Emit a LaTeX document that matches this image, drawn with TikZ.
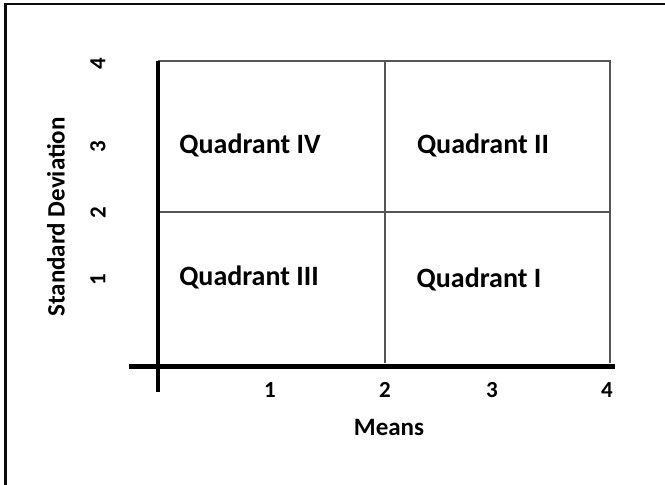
\documentclass[tikz,border=0pt]{standalone}
\usepackage{fontspec}
\setmainfont{Carlito}
\usetikzlibrary{positioning}
\definecolor{gridcol}{RGB}{85,85,85}
\definecolor{framecol}{RGB}{10,10,10}

\begin{document}
\begin{tikzpicture}[x=1pt,y=-1pt,font=\fontsize{28}{32}\selectfont\bfseries,
    gridline/.style={gridcol,line width=1.8pt},
    ticklab/.style={inner sep=0pt,font=\fontsize{23}{26}\selectfont\bfseries}]
  % ---------------- page and frame -------------------------------------
  \useasboundingbox (0,0) rectangle (665,485);
  \fill[white] (0,0) rectangle (665,485);
  \draw[framecol,line width=2.6pt] (5.5,485) -- (5.5,4) -- (665,4);
  % ---------------- the four quadrants ---------------------------------
  \coordinate (o)  at (158,363);
  \coordinate (tl) at (158,61);
  \coordinate (tr) at (610,61);
  \coordinate (br) at (610,363);
  \coordinate (mt) at (385,61);
  \coordinate (mb) at (385,363);
  \coordinate (ml) at (158,212);
  \coordinate (mr) at (610,212);
  \draw[gridline] (tl) -- (tr) -- (br);
  \draw[gridline] (mt) -- (mb);
  \draw[gridline] (ml) -- (mr);
  % axes: thick, crossing just below/left of the origin
  \draw[black,line width=3.5pt] (158,392) -- (tl);
  \draw[black,line width=5pt] (129,366) -- (615,366);
  \node (q4) at (250,145) {Quadrant IV};
  \node (q2) at (483,145) {Quadrant II};
  \node (q3) at (249,277) {Quadrant III};
  \node (q1) at (479,279) {Quadrant I};
  % ---------------- tick labels ----------------------------------------
  \node[ticklab] (x1) at (270,390) {1};
  \node[ticklab] (x2) at (385,390) {2};
  \node[ticklab] (x3) at (492,390) {3};
  \node[ticklab] (x4) at (607,390) {4};
  \node[ticklab,rotate=90] (y1) at (98,280) {1};
  \node[ticklab,rotate=90] (y2) at (98,213) {2};
  \node[ticklab,rotate=90] (y3) at (98,147) {3};
  \node[ticklab,rotate=90] (y4) at (98,64) {4};
  \node[font=\fontsize{25}{28}\selectfont\bfseries] (means) at (389,427) {Means};
  \node[rotate=90,font=\fontsize{25}{28}\selectfont\bfseries] (sd) at (56,217) {Standard Deviation};
\end{tikzpicture}
\end{document}
